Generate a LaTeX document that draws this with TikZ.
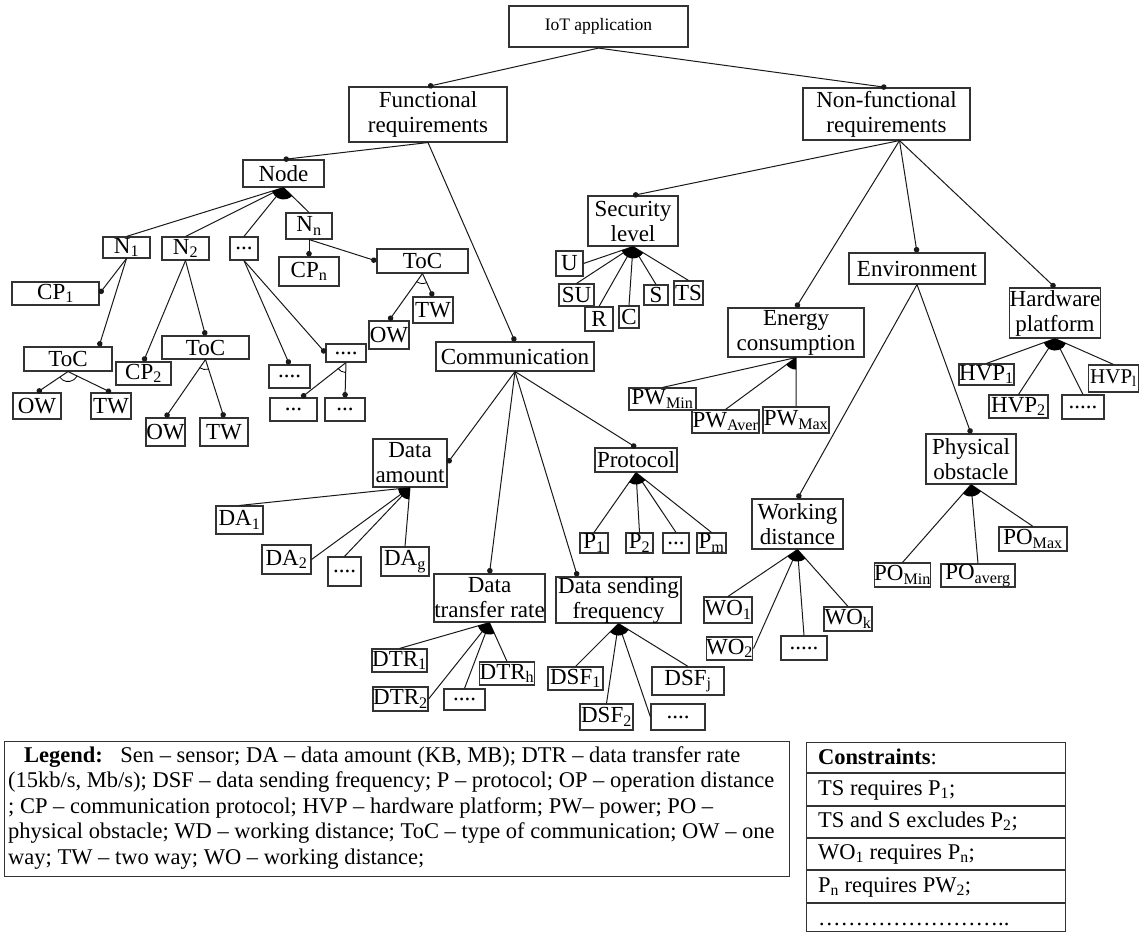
\documentclass[tikz,border=0pt]{standalone}
\usepackage{fontspec}
\setmainfont{Liberation Serif}
\usetikzlibrary{arrows.meta,calc}

% filled fan of an or-group, open fan of an alternative group
\newcommand{\orarc}[3]{%
  \fill let \p1=($(#2)-(#1)$), \p2=($(#3)-(#1)$),
    \n1={atan2(\y1,\x1)}, \n2={atan2(\y2,\x2)} in
    (#1) -- ($(#1)+(\n1:12pt)$) arc[start angle=\n1,end angle=\n2,radius=12pt] -- cycle;}
\newcommand{\altarc}[3]{%
  \draw[line width=0.8pt] let \p1=($(#2)-(#1)$), \p2=($(#3)-(#1)$),
    \n1={atan2(\y1,\x1)}, \n2={atan2(\y2,\x2)} in
    ($(#1)+(\n1:10pt)$) arc[start angle=\n1,end angle=\n2,radius=10pt];}

\begin{document}
\begin{tikzpicture}[x=1pt,y=-1pt,
    box/.style={draw=black!80,line width=1.1pt,inner sep=0pt,align=center,
      font=\fontsize{23}{25}\selectfont},
    link/.style={line width=1pt,black!90},
    must/.style={line width=1pt,black!90,-{Circle[length=5.5pt]}},
    note/.style={inner sep=0pt,align=left,font=\fontsize{22.5}{25.5}\selectfont}]
    \useasboundingbox (0,0) rectangle (1140,933);

    % root and the two branches
    \node[box,line width=2.2pt,font=\fontsize{17.5}{20}\selectfont,minimum width=179,minimum height=41] (iot) at (598.5,26.5) {IoT application};
    \node[box,minimum width=158,minimum height=55] (fr) at (428,114.5) {Functional\\requirements};
    \node[box,minimum width=167,minimum height=52] (nfr) at (886.5,114) {Non-functional\\requirements};
    \draw[must] (iot.south) -- (fr.north);
    \draw[must] (iot.south) -- (nfr.north);

    % functional: node
    \node[box,minimum width=81,minimum height=27] (node) at (283.5,173.5) {Node};
    \node[box,minimum width=47,minimum height=21] (n1) at (126.5,247.5) {N\textsubscript{1}};
    \node[box,minimum width=47,minimum height=23] (n2) at (185.5,248.5) {N\textsubscript{2}};
    \node[box,minimum width=28,minimum height=23] (ndots) at (244,248.5) {...};
    \node[box,minimum width=46,minimum height=26] (nn) at (309,226) {N\textsubscript{n}};
    \draw[must] (fr.south) -- (node.north);
    \draw[link] (node.south) -- (n1.north) (node.south) -- (n2.north)
      (node.south) -- (ndots.north) (node.south) -- (nn.north);
    \orarc{node.south}{n1.north}{nn.north}

    \node[box,minimum width=87,minimum height=23] (cp1) at (55.5,293.5) {CP\textsubscript{1}};
    \node[box,minimum width=88,minimum height=24] (toc1) at (68,359) {ToC};
    \node[box,minimum width=48,minimum height=26] (ow1) at (37,406) {OW};
    \node[box,minimum width=40,minimum height=26] (tw1) at (111,406) {TW};
    \draw[must] (n1.south) -- (cp1.east);
    \draw[must] (n1.south) -- ([xshift=31]toc1.north);
    \draw[must] (toc1.south) -- (ow1.north);
    \draw[must] (toc1.south) -- (tw1.north);
    \altarc{toc1.south}{ow1.north}{tw1.north}

    \node[box,minimum width=55,minimum height=23] (cp2) at (143.5,373.5) {CP\textsubscript{2}};
    \node[box,minimum width=87,minimum height=23] (toc2) at (205.5,347.5) {ToC};
    \node[box,minimum width=39,minimum height=28] (ow2) at (165.5,432) {OW};
    \node[box,minimum width=48,minimum height=28] (tw2) at (224,432) {TW};
    \draw[must] (n2.south) -- (cp2.north);
    \draw[must] (n2.south) -- (toc2.north);
    \draw[must] (toc2.south) -- (ow2.north);
    \draw[must] (toc2.south) -- (tw2.north);
    \altarc{toc2.south}{ow2.north}{tw2.north}

    \node[box,minimum width=41,minimum height=23] (dd1) at (289.5,376.5) {....};
    \node[box,minimum width=40,minimum height=18] (dd2) at (346,353) {....};
    \node[box,minimum width=47,minimum height=23] (dd3) at (293.5,409.5) {...};
    \node[box,minimum width=40,minimum height=23] (dd4) at (345,409.5) {...};
    \draw[must] (ndots.south) -- (dd1.north);
    \draw[must] (ndots.south) -- (dd2.west);
    \draw[must] (dd2.south) -- ([xshift=8]dd3.north);
    \draw[must] (dd2.south) -- (dd4.north);
    \altarc{dd2.south}{dd3.north}{dd4.north}

    \node[box,minimum width=60,minimum height=29] (cpn) at (309,271.5) {CP\textsubscript{n}};
    \node[box,minimum width=91,minimum height=24] (tocn) at (422.5,261) {ToC};
    \node[box,minimum width=40,minimum height=28] (own) at (389,335) {OW};
    \node[box,minimum width=40,minimum height=26] (twn) at (433,310) {TW};
    \draw[must] (nn.south) -- (cpn.north);
    \draw[must] (nn.south) -- (tocn.west);
    \draw[must] (tocn.south) -- (own.north);
    \draw[must] (tocn.south) -- (twn.north);
    \altarc{tocn.south}{own.north}{twn.north}

    % functional: communication
    \node[box,minimum width=158,minimum height=29] (comm) at (515,356.5) {Communication};
    \node[box,minimum width=74,minimum height=48] (da) at (410,463) {Data\\amount};
    \node[box,minimum width=111,minimum height=48] (dtr) at (489.5,598) {Data\\transfer rate};
    \node[box,minimum width=125,minimum height=46] (dsf) at (618.5,600) {Data sending\\frequency};
    \node[box,minimum width=82,minimum height=24] (prot) at (636,460) {Protocol};
    \draw[must] (fr.south) -- (comm.north);
    \draw[must] (comm.south) -- (da.east);
    \draw[must] (comm.south) -- (dtr.north);
    \draw[must] (comm.south) -- ([xshift=-41]dsf.north);
    \draw[must] (comm.south) -- (prot.north);

    \node[box,minimum width=47,minimum height=28] (da1) at (239.5,520) {DA\textsubscript{1}};
    \node[box,minimum width=49,minimum height=29] (da2) at (286.5,559.5) {DA\textsubscript{2}};
    \node[box,minimum width=33,minimum height=29] (dadots) at (344.5,571.5) {....};
    \node[box,minimum width=48,minimum height=29] (dag) at (405,561.5) {DA\textsubscript{g}};
    \draw[link] (da.south) -- (da1.north) (da.south) -- (da2.east)
      (da.south) -- (dadots.north) (da.south) -- (dag.north);
    \orarc{da.south}{da1.north}{dag.north}

    \node[box,minimum width=55,minimum height=23] (dtr1) at (399.5,660.5) {DTR\textsubscript{1}};
    \node[box,minimum width=55,minimum height=24] (dtr2) at (400.5,699) {DTR\textsubscript{2}};
    \node[box,minimum width=41,minimum height=21] (dtrdots) at (464.5,699.5) {....};
    \node[box,minimum width=46,minimum height=23] (dtrh) at (507,673.5) {DTR\textsubscript{h}};
    \draw[link] (dtr.south) -- (dtr1.north) (dtr.south) -- (dtr2.east)
      (dtr.south) -- (dtrdots.north) (dtr.south) -- (dtrh.north);
    \orarc{dtr.south}{dtr1.north}{dtrh.north}

    \node[box,minimum width=55,minimum height=23] (dsf1) at (575.5,678.5) {DSF\textsubscript{1}};
    \node[box,minimum width=53,minimum height=26] (dsf2) at (606.5,717) {DSF\textsubscript{2}};
    \node[box,minimum width=54,minimum height=26] (dsfdots) at (678,717) {....};
    \node[box,minimum width=72,minimum height=28] (dsfj) at (688,681) {DSF\textsubscript{j}};
    \draw[link] (dsf.south) -- (dsf1.north) (dsf.south) -- (dsf2.north)
      (dsf.south) -- (dsfdots.west) (dsf.south) -- (dsfj.north);
    \orarc{dsf.south}{dsf1.north}{dsfj.north}

    \node[box,minimum width=28,minimum height=20] (p1) at (594,543) {P\textsubscript{1}};
    \node[box,minimum width=27,minimum height=20] (p2) at (639.5,543) {P\textsubscript{2}};
    \node[box,minimum width=26,minimum height=20] (pdots) at (676,543) {...};
    \node[box,minimum width=29,minimum height=20] (pm) at (711.5,543) {P\textsubscript{m}};
    \draw[link] (prot.south) -- (p1.north) (prot.south) -- (p2.north)
      (prot.south) -- (pdots.north) (prot.south) -- (pm.north);
    \orarc{prot.south}{p1.north}{pm.north}

    % non-functional: security level
    \node[box,minimum width=90,minimum height=50] (sec) at (633,221) {Security\\level};
    \draw[must] ([xshift=13]nfr.south) -- (sec.north);
    \node[box,minimum width=27,minimum height=25] (u) at (569.5,263.5) {U};
    \node[box,minimum width=35,minimum height=22] (su) at (576.5,295) {SU};
    \node[box,minimum width=28,minimum height=24] (r) at (599,319) {R};
    \node[box,minimum width=20,minimum height=22] (c) at (629,317) {C};
    \node[box,minimum width=24,minimum height=20] (s) at (656,295) {S};
    \node[box,minimum width=29,minimum height=24] (ts) at (688.5,293) {TS};
    \draw[link] (sec.south) -- (u.east) (sec.south) -- (su.north) (sec.south) -- (r.north)
      (sec.south) -- (c.north) (sec.south) -- (s.north) (sec.south) -- (ts.north);
    \orarc{sec.south}{u.east}{ts.north}

    % non-functional: energy consumption
    \node[box,minimum width=136,minimum height=49] (en) at (796,332.5) {Energy\\consumption};
    \draw[must] ([xshift=13]nfr.south) -- (en.north);
    \node[box,minimum width=67,minimum height=22] (pwmin) at (662.5,399) {PW\textsubscript{Min}};
    \node[box,minimum width=67,minimum height=23] (pwaver) at (725.5,421.5) {PW\textsubscript{Aver}};
    \node[box,minimum width=66,minimum height=26] (pwmax) at (796,420) {PW\textsubscript{Max}};
    \draw[link] (en.south) -- (pwmin.north) (en.south) -- (pwaver.north) (en.south) -- (pwmax.north);
    \orarc{en.south}{pwaver.north}{pwmax.north}

    % non-functional: environment
    \node[box,minimum width=136,minimum height=31] (env) at (917,268.5) {Environment};
    \draw[must] ([xshift=13]nfr.south) -- (env.north);
    \node[box,minimum width=91,minimum height=50] (wd) at (797.5,524) {Working\\distance};
    \node[box,minimum width=90,minimum height=50] (po) at (971,459) {Physical\\obstacle};
    \draw[must] (env.south) -- (wd.north);
    \draw[must] (env.south) -- (po.north);

    \node[box,minimum width=48,minimum height=26] (wo1) at (728,610) {WO\textsubscript{1}};
    \node[box,minimum width=45,minimum height=23] (wo2) at (729.5,648.5) {WO\textsubscript{2}};
    \node[box,minimum width=46,minimum height=24] (wodots) at (804,648) {.....};
    \node[box,minimum width=48,minimum height=24] (wok) at (848,619) {WO\textsubscript{k}};
    \draw[link] (wd.south) -- (wo1.north) (wd.south) -- (wo2.east)
      (wd.south) -- (wodots.north) (wd.south) -- (wok.north);
    \orarc{wd.south}{wo1.north}{wok.north}

    \node[box,minimum width=55,minimum height=24] (pomin) at (902.5,575) {PO\textsubscript{Min}};
    \node[box,minimum width=74,minimum height=23] (poaverg) at (978,575.5) {PO\textsubscript{averg}};
    \node[box,minimum width=68,minimum height=24] (pomax) at (1033,539) {PO\textsubscript{Max}};
    \draw[link] (po.south) -- (pomin.north) (po.south) -- (poaverg.north) (po.south) -- (pomax.north);
    \orarc{po.south}{pomin.north}{pomax.north}

    % non-functional: hardware platform
    \node[box,minimum width=90,minimum height=50] (hw) at (1055,313) {Hardware\\platform};
    \draw[must] ([xshift=13]nfr.south) -- (hw.north);
    \node[box,minimum width=55,minimum height=21] (hvp1) at (986.5,374.5) {HVP\textsubscript{1}};
    \node[box,minimum width=59,minimum height=23] (hvp2) at (1018.5,406.5) {HVP\textsubscript{2}};
    \node[box,minimum width=42,minimum height=24] (hvpdots) at (1083,407) {.....};
    \node[box,font=\fontsize{21}{25}\selectfont,minimum width=50,minimum height=27] (hvpl) at (1113.5,378.5) {HVP\textsubscript{l}};
    \draw[link] (hw.south) -- (hvp1.north) (hw.south) -- (hvp2.north)
      (hw.south) -- (hvpdots.north) (hw.south) -- (hvpl.north);
    \orarc{hw.south}{hvp1.north}{hvpl.north}

    % legend
    \node[draw=black!80,line width=1.1pt,inner sep=0pt,anchor=north west,
      minimum width=785,minimum height=135] (legend) at (4,741) {};
    \node[note,anchor=north west] (legendtext) at (8,746)
      {\hspace*{16pt}\textbf{Legend:}\hspace{10pt} Sen -- sensor; DA -- data amount (KB, MB); DTR -- data transfer rate\\
       (15kb/s, Mb/s); DSF -- data sending frequency; P -- protocol; OP -- operation distance\\
       ; CP -- communication protocol; HVP -- hardware platform; PW-- power; PO --\\
       physical obstacle; WD -- working distance; ToC -- type of communication; OW -- one\\
       way; TW -- two way; WO -- working distance;};

    % constraints
    \node[draw=black!80,line width=1.1pt,inner sep=0pt,anchor=north west,
      minimum width=259,minimum height=189] (constraints) at (806,742) {};
    \draw[line width=1.1pt,black!80] (806,773) -- (1065,773) (806,806) -- (1065,806)
      (806,838) -- (1065,838) (806,870) -- (1065,870) (806,903) -- (1065,903);
    \node[note,anchor=base west] (con0) at (818,764) {\textbf{Constraints}:};
    \node[note,anchor=base west] (con1) at (818,795) {TS requires P\textsubscript{1};};
    \node[note,anchor=base west] (con2) at (818,827) {TS and S excludes P\textsubscript{2};};
    \node[note,anchor=base west] (con3) at (818,859) {WO\textsubscript{1} requires P\textsubscript{n};};
    \node[note,anchor=base west] (con4) at (818,892) {P\textsubscript{n} requires PW\textsubscript{2};};
    \node[note,anchor=base west] (con5) at (818,925) {\ldots\ldots\ldots\ldots\ldots\ldots\ldots\ldots..};
  \end{tikzpicture}
\end{document}
